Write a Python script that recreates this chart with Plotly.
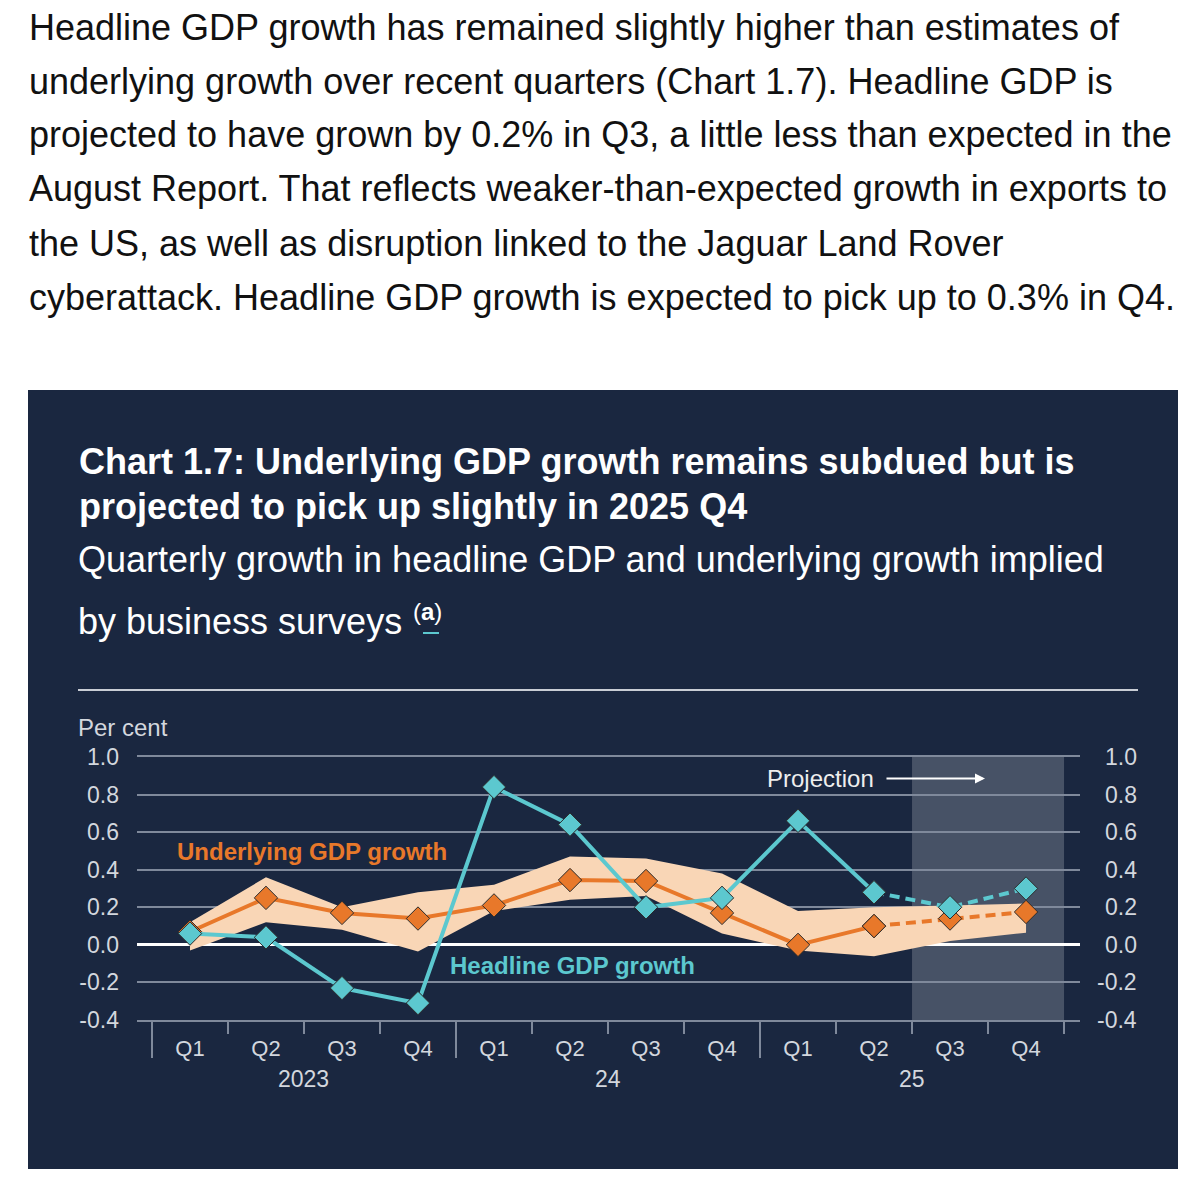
import plotly.graph_objects as go

# ---------------- data ----------------
quarters = ["Q1", "Q2", "Q3", "Q4", "Q1", "Q2", "Q3", "Q4", "Q1", "Q2", "Q3", "Q4"]
years = ["2023", "2023", "2023", "2023", "24", "24", "24", "24", "25", "25", "25", "25"]
headline = [0.06, 0.04, -0.23, -0.31, 0.84, 0.64, 0.20, 0.25, 0.66, 0.28, 0.20, 0.30]
underlying = [0.07, 0.25, 0.17, 0.14, 0.21, 0.345, 0.34, 0.17, 0.00, 0.10, 0.14, 0.175]
band_lower = [-0.03, 0.12, 0.08, -0.035, 0.18, 0.24, 0.26, 0.06, -0.03, -0.06, 0.02, 0.065]
band_upper = [0.12, 0.36, 0.20, 0.28, 0.32, 0.47, 0.46, 0.38, 0.18, 0.20, 0.21, 0.22]
proj_start = 10          # first projected quarter (2025 Q3)
last_outturn = 9         # 2025 Q2
y_ticks = [-0.4, -0.2, 0.0, 0.2, 0.4, 0.6, 0.8, 1.0]
y_ticktext = ["-0.4", "-0.2", "0.0", "0.2", "0.4", "0.6", "0.8", "1.0"]

paragraph = [
    "Headline GDP growth has remained slightly higher than estimates of",
    "underlying growth over recent quarters (Chart 1.7). Headline GDP is",
    "projected to have grown by 0.2% in Q3, a little less than expected in the",
    "August Report. That reflects weaker-than-expected growth in exports to",
    "the US, as well as disruption linked to the Jaguar Land Rover",
    "cyberattack. Headline GDP growth is expected to pick up to 0.3% in Q4.",
]
title_lines = ["Chart 1.7: Underlying GDP growth remains subdued but is",
               "projected to pick up slightly in 2025 Q4"]
subtitle_lines = ["Quarterly growth in headline GDP and underlying growth implied",
                  "by business surveys"]

# ---------------- styling ----------------
W, H = 1178, 1182
def px(x):
    return x / W
def py(y):
    return 1 - y / H

NAVY = "#1a2740"
GRID = "#7f899b"
TICKTXT = "#d3d7de"
ORANGE = "#e8782a"
TEAL = "#5cc8cf"
PEACH = "#f9d6b6"
FONT = "Liberation Sans, Arial, sans-serif"

cats = [f"{y} {q}" for y, q in zip(years, quarters)]

fig = go.Figure()

# band
fig.add_trace(go.Scatter(x=cats, y=band_lower, mode="lines", line=dict(width=0, color=PEACH),
                         hoverinfo="skip", showlegend=False))
fig.add_trace(go.Scatter(x=cats, y=band_upper, mode="lines", line=dict(width=0, color=PEACH),
                         fill="tonexty", fillcolor=PEACH, hoverinfo="skip", showlegend=False))

mk_line = dict(color="#2b2b2b", width=1)

# underlying
fig.add_trace(go.Scatter(x=cats[:last_outturn + 1], y=underlying[:last_outturn + 1], mode="lines+markers",
                         line=dict(color=ORANGE, width=4),
                         marker=dict(symbol="diamond", size=18, color=ORANGE, line=mk_line),
                         cliponaxis=False, showlegend=False, hoverinfo="skip"))
fig.add_trace(go.Scatter(x=cats[last_outturn:], y=underlying[last_outturn:], mode="lines+markers",
                         line=dict(color=ORANGE, width=4, dash="10px,6px"),
                         marker=dict(symbol="diamond", size=18, color=ORANGE, line=mk_line),
                         cliponaxis=False, showlegend=False, hoverinfo="skip"))
# headline
fig.add_trace(go.Scatter(x=cats[:last_outturn + 1], y=headline[:last_outturn + 1], mode="lines+markers",
                         line=dict(color=TEAL, width=4),
                         marker=dict(symbol="diamond", size=18, color=TEAL, line=mk_line),
                         cliponaxis=False, showlegend=False, hoverinfo="skip"))
fig.add_trace(go.Scatter(x=cats[last_outturn:], y=headline[last_outturn:], mode="lines+markers",
                         line=dict(color=TEAL, width=4, dash="10px,6px"),
                         marker=dict(symbol="diamond", size=18, color=TEAL, line=mk_line),
                         cliponaxis=False, showlegend=False, hoverinfo="skip"))

xrange = [-0.697, 11.71]

shapes = [
    # dark panel
    dict(type="rect", xref="paper", yref="paper", x0=px(28), x1=px(1178), y0=py(1169), y1=py(390),
         fillcolor=NAVY, line=dict(width=0), layer="below"),
    # rule under subtitle
    dict(type="line", xref="paper", yref="paper", x0=px(78), x1=px(1138), y0=py(690), y1=py(690),
         line=dict(color="#c9cdd5", width=2)),
    # projection shading
    dict(type="rect", xref="x2", yref="y domain", x0=proj_start - 0.5, x1=len(cats) - 0.5, y0=0, y1=1,
         fillcolor="rgba(255,255,255,0.2)", line=dict(width=0), layer="below"),
    # teal underline under (a)
    dict(type="line", xref="paper", yref="paper", x0=px(423), x1=px(439), y0=py(633), y1=py(633),
         line=dict(color=TEAL, width=2)),
]

annotations = []
para_y = [28, 81, 135, 189, 243, 297]
for t, yy in zip(paragraph, para_y):
    annotations.append(dict(text=t, xref="paper", yref="paper", x=px(27), y=py(yy), xanchor="left",
                            yanchor="middle", showarrow=False, font=dict(family=FONT, size=36, color="#111111")))
for t, yy in zip(title_lines, [462, 506]):
    annotations.append(dict(text=f"<b>{t}</b>", xref="paper", yref="paper", x=px(77), y=py(yy), xanchor="left",
                            yanchor="middle", showarrow=False, font=dict(family=FONT, size=36, color="white")))
for t, yy in zip(subtitle_lines, [560, 622]):
    annotations.append(dict(text=t, xref="paper", yref="paper", x=px(76), y=py(yy), xanchor="left",
                            yanchor="middle", showarrow=False, font=dict(family=FONT, size=36, color="white")))
annotations.append(dict(text="(<b>a</b>)", xref="paper", yref="paper", x=px(411), y=py(611), xanchor="left",
                        yanchor="middle", showarrow=False, font=dict(family=FONT, size=24, color="white")))
annotations.append(dict(text="Per cent", xref="paper", yref="paper", x=px(76), y=py(727), xanchor="left",
                        yanchor="middle", showarrow=False, font=dict(family=FONT, size=24, color=TICKTXT)))
# right-hand tick labels
for v, t in zip(y_ticks, y_ticktext):
    annotations.append(dict(text=t, xref="paper", yref="y", x=px(1139), y=v, xanchor="right",
                            yanchor="middle", showarrow=False, font=dict(family=FONT, size=23, color=TICKTXT)))
# year labels
groups = {}
for i, yv in enumerate(years):
    groups.setdefault(yv, []).append(i)
for yv, idx in groups.items():
    annotations.append(dict(text=yv, xref="x2", yref="paper", x=sum(idx) / len(idx), y=py(1079),
                            xanchor="center", yanchor="middle", showarrow=False,
                            font=dict(family=FONT, size=23, color=TICKTXT)))
# series labels
annotations.append(dict(text="<b>Underlying GDP growth</b>", xref="x2", yref="y", x=-0.2, y=0.495,
                        xanchor="left", yanchor="middle", showarrow=False,
                        font=dict(family=FONT, size=24, color=ORANGE)))
annotations.append(dict(text="<b>Headline GDP growth</b>", xref="x2", yref="y", x=3.4, y=-0.11,
                        xanchor="left", yanchor="middle", showarrow=False,
                        font=dict(family=FONT, size=24, color=TEAL)))
# projection label + arrow
annotations.append(dict(text="Projection", xref="x2", yref="y", x=9.03, y=0.885,
                        xanchor="right", yanchor="middle", showarrow=False,
                        font=dict(family=FONT, size=24, color="#eeeeee")))
annotations.append(dict(text="", xref="x2", yref="y", x=10.46, y=0.885, ax=-100, ay=0,
                        showarrow=True, arrowhead=2, arrowsize=1, arrowwidth=2, arrowcolor="white"))

fig.update_layout(
    width=W, height=H,
    margin=dict(l=0, r=0, t=0, b=0, pad=0, autoexpand=False),
    paper_bgcolor="white",
    plot_bgcolor="rgba(0,0,0,0)",
    showlegend=False,
    shapes=shapes,
    annotations=annotations,
    xaxis=dict(domain=[px(137), px(1080)], type="category", range=xrange,
               tickmode="array", tickvals=cats, ticktext=quarters, tickson="boundaries",
               ticks="outside", ticklen=12, tickwidth=1.5, tickcolor=GRID,
               showgrid=False, zeroline=False, showline=True, mirror=True, linecolor=GRID, linewidth=1.5,
               tickfont=dict(family=FONT, size=22, color=TICKTXT), ticklabelstandoff=8,
               fixedrange=True),
    xaxis2=dict(domain=[px(137), px(1080)], overlaying="x", anchor="y", range=xrange,
                tickmode="array", tickvals=[-0.5, 3.5, 7.5], ticks="outside", ticklen=37,
                tickwidth=1.5, tickcolor=GRID, showticklabels=False, showgrid=False,
                zeroline=False, showline=False, fixedrange=True),
    yaxis=dict(domain=[py(1020), py(757)], range=[-0.4, 1.0], tickmode="array",
               tickvals=y_ticks, ticktext=y_ticktext, showgrid=True, gridcolor=GRID, gridwidth=1.5,
               zeroline=True, zerolinecolor="white", zerolinewidth=2.5, ticks="",
               tickfont=dict(family=FONT, size=23, color=TICKTXT), ticklabelstandoff=17,
               fixedrange=True),
)

fig.write_html("out.html", config={"displayModeBar": False},
               post_script="document.body.style.margin='0';document.body.style.overflow='hidden';")
